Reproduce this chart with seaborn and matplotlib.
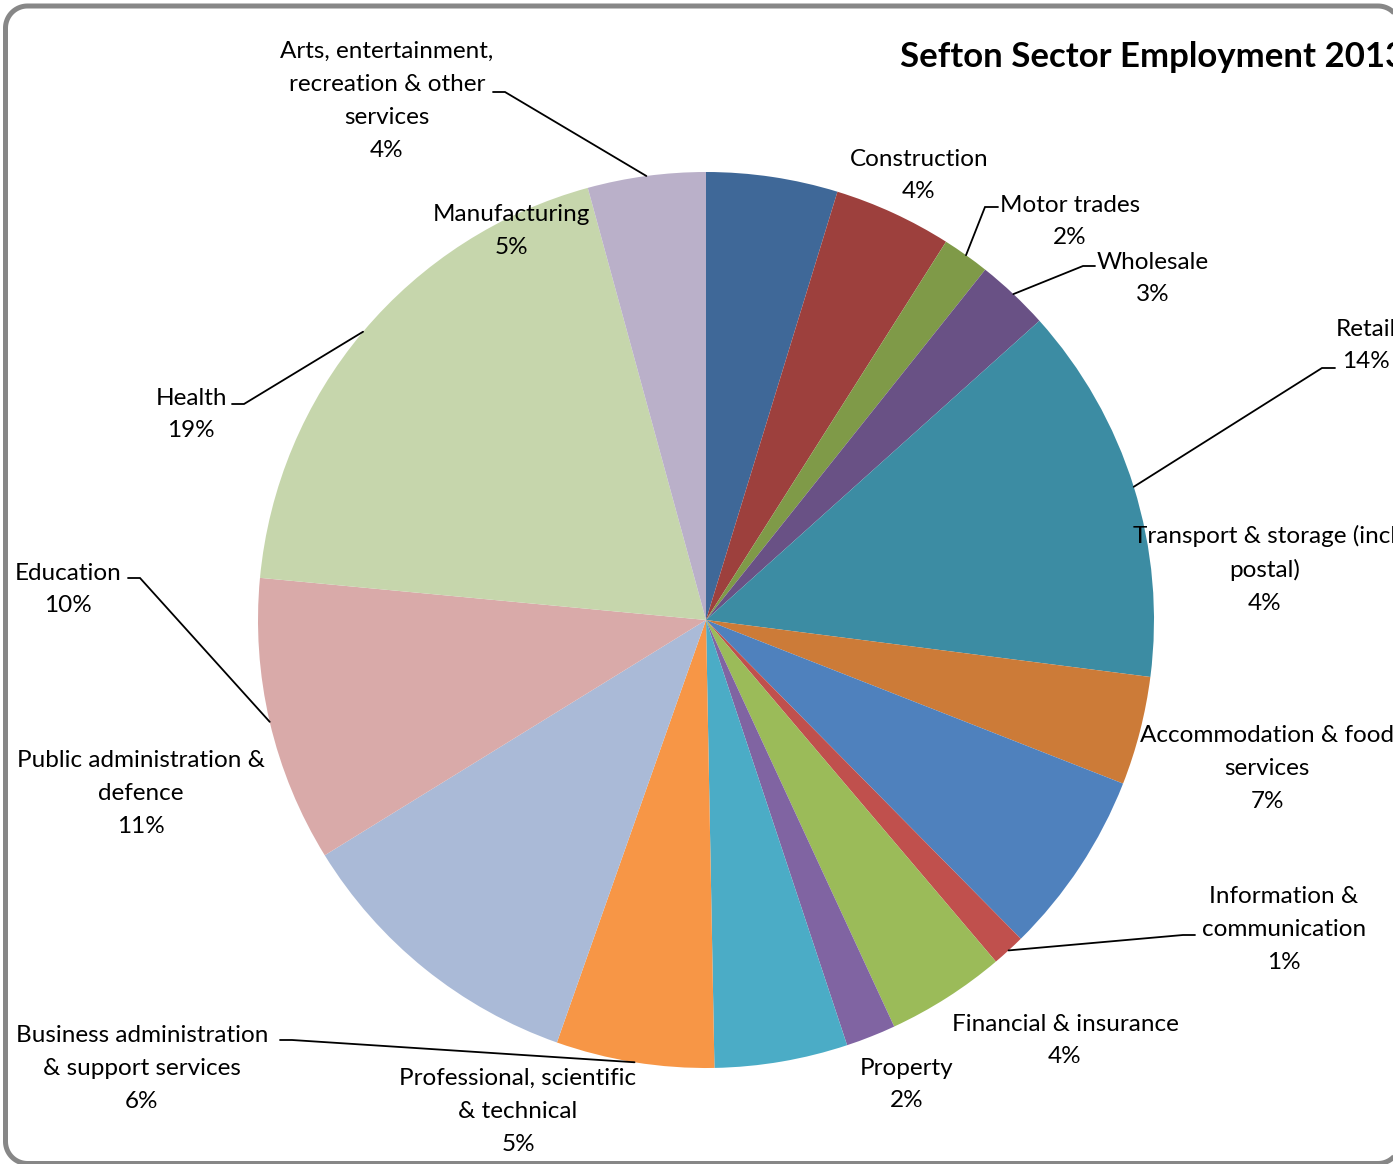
import numpy as np
import matplotlib
matplotlib.use("Agg")
import matplotlib.pyplot as plt
from matplotlib.patches import PathPatch
from matplotlib.path import Path
import seaborn as sns

# Sector shares of employment (%), clockwise from 12 o'clock
sectors = [
    "Manufacturing",
    "Construction",
    "Motor trades",
    "Wholesale",
    "Retail",
    "Transport & storage (incl\npostal)",
    "Accommodation & food\nservices",
    "Information &\ncommunication",
    "Financial & insurance",
    "Property",
    "Professional, scientific\n& technical",
    "Business administration\n& support services",
    "Public administration &\ndefence",
    "Education",
    "Health",
    "Arts, entertainment,\nrecreation & other\nservices",
]
shares = [4.74, 4.26, 1.71, 2.65, 13.67, 3.92, 6.65, 1.20,
          4.30, 1.80, 4.80, 5.70, 10.80, 10.30, 19.25, 4.25]
slice_colors = [
    "#3F6898", "#9D403D", "#7F9A48", "#695185", "#3C8CA3", "#CC7B38",
    "#4F81BD", "#C0504D", "#9BBB59", "#8064A2", "#4BACC6", "#F79646",
    "#AABAD7", "#D9AAA9", "#C6D6AC", "#BAB0C9",
]
title = "Sefton Sector Employment 2013"

sns.set_theme(style="white")
plt.rcParams["font.family"] = ["Lato", "DejaVu Sans"]

W, H = 1393, 1164
fig = plt.figure(figsize=(W / 100, H / 100), dpi=100)
ax = fig.add_axes([0, 0, 1, 1])

# pixel-space helpers (y measured from the top)
def Y(y):
    return H - y

cx, cy, R = 706, 620, 448
wedges, _ = ax.pie(shares, colors=sns.color_palette(slice_colors), startangle=90,
                   counterclock=False, center=(cx, Y(cy)), radius=R,
                   wedgeprops=dict(linewidth=0))
ax.set_xlim(0, W)
ax.set_ylim(0, H)
ax.set_aspect("auto")
ax.axis("off")

# label block centres (x, y from top) and optional leader: (text edge x, elbow x, y)
label_pos = [
    (511, 231, None),
    (919, 175.5, None),
    (1070, 221.5, (998, 985, 207)),
    (1153, 278.5, (1095, 1083, 266)),
    (1366, 345.5, (1335, 1322, 368)),
    (1265, 569.5, None),
    (1267, 768.5, None),
    (1284, 929.5, (1195, 1183, 935)),
    (1065, 1040.5, None),
    (907, 1084.5, None),
    (518, 1111.5, None),
    (142, 1068.5, (280, 292, 1040)),
    (141, 793.5, None),
    (68, 589.5, (128, 140, 578)),
    (191, 414.5, (232, 244, 404)),
    (387, 101, (493, 505, 92)),
]

total = sum(shares)
for w, name, v, (lx, ly, lead) in zip(wedges, sectors, shares, label_pos):
    pct = round(v / total * 100)
    ax.text(lx, Y(ly), f"{name}\n{pct}%", ha="center", va="center",
            multialignment="center", fontsize=17.5, color="black",
            linespacing=1.7, clip_on=False)
    if lead is not None:
        tx, ex, ey = lead
        mid = np.deg2rad((w.theta1 + w.theta2) / 2)
        px = w.center[0] + w.r * np.cos(mid)
        py = w.center[1] + w.r * np.sin(mid)
        ax.plot([tx, ex, px], [Y(ey), Y(ey), py], color="black", lw=1.3,
                solid_joinstyle="miter", clip_on=False)

ax.text(900, Y(57), title, ha="left", va="center", fontsize=25,
        fontweight="bold", color="black", clip_on=False)

# rounded chart-area border, open on the right where it runs past the edge
left, top, right, bottom, rad = 5.5, 6.0, 1400.0, 1163.5, 22.0

def corner(xc, yc, a0, a1, n=24):
    t = np.deg2rad(np.linspace(a0, a1, n))
    return np.column_stack([xc + rad * np.cos(t), yc - rad * np.sin(t)])

outline = np.vstack([
    corner(right - rad, top + rad, 0, 90),
    corner(left + rad, top + rad, 90, 180),
    corner(left + rad, bottom - rad, 180, 270),
    corner(right - rad, bottom - rad, 270, 360),
])
outline[:, 1] = H - outline[:, 1]
border = PathPatch(Path(outline), facecolor="none", edgecolor="#878787",
                   lw=3.6, joinstyle="round", transform=None)
fig.add_artist(border)

fig.savefig("out.png", dpi=100)
